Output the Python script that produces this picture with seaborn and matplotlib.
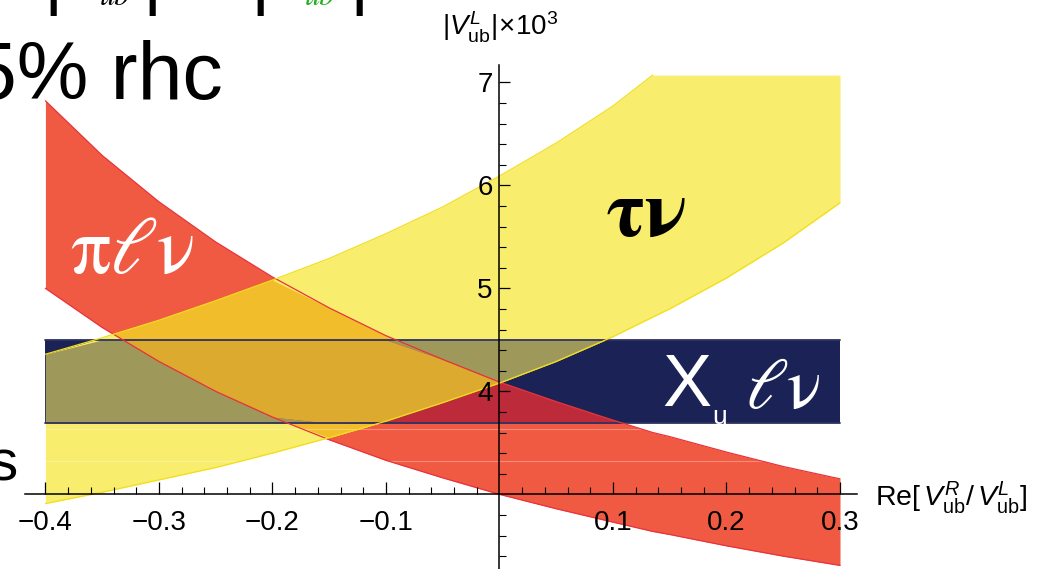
import numpy as np
import matplotlib
matplotlib.use("Agg")
import matplotlib.pyplot as plt
import seaborn as sns
from matplotlib.ticker import FixedLocator

# Re[V_ub^R / V_ub^L] sample points
ratio = [-0.40, -0.35, -0.30, -0.25, -0.20, -0.15, -0.10, -0.05, 0.00,
         0.05, 0.10, 0.135, 0.15, 0.20, 0.25, 0.30]

# |V_ub^L| x 10^3 allowed by B -> pi l nu
pilnu_upper = [6.82, 6.29, 5.84, 5.45, 5.11, 4.81, 4.54, 4.31, 4.09,
               3.90, 3.72, 3.60, 3.56, 3.41, 3.27, 3.15]
pilnu_lower = [5.00, 4.62, 4.29, 4.00, 3.75, 3.53, 3.33, 3.16, 3.00,
               2.86, 2.73, 2.64, 2.61, 2.50, 2.40, 2.31]

# |V_ub^L| x 10^3 allowed by B -> tau nu (cut at the top of the plot range)
taunu_upper = [4.36, 4.52, 4.69, 4.88, 5.08, 5.29, 5.53, 5.79, 6.09,
               6.41, 6.77, 7.07, 7.07, 7.07, 7.07, 7.07]
taunu_lower = [2.91, 3.02, 3.14, 3.26, 3.40, 3.55, 3.71, 3.89, 4.08,
               4.29, 4.53, 4.72, 4.80, 5.10, 5.44, 5.83]

# inclusive B -> X_u l nu band (independent of the ratio)
xulnu_upper = 4.50
xulnu_lower = 3.69

x_ticks = [-0.4, -0.3, -0.2, -0.1, 0.1, 0.2, 0.3]
x_tick_labels = ["\u22120.4", "\u22120.3", "\u22120.2", "\u22120.1", "0.1", "0.2", "0.3"]
y_ticks = [4, 5, 6, 7]
y_tick_labels = ["4", "5", "6", "7"]

RED = "#f15a42"
YELLOW = "#f8ed6c"
NAVY = "#1b2356"
RED_YELLOW = "#f2bd2a"
YELLOW_NAVY = "#9e995a"
RED_NAVY = "#bd2a3a"
ALL_THREE = "#dbaa2e"

sns.set_theme(style="white")
plt.rcParams["font.family"] = ["Liberation Sans", "DejaVu Sans"]
plt.rcParams["mathtext.fontset"] = "custom"
plt.rcParams["mathtext.rm"] = "Liberation Sans"
plt.rcParams["mathtext.it"] = "Liberation Sans:italic"
plt.rcParams["mathtext.bf"] = "Liberation Sans:bold"

fig = plt.figure(figsize=(10.44, 5.69), dpi=100)
ax = fig.add_axes([0, 0, 1, 1])
ax.set_xlim(-0.440, 0.4797)
ax.set_ylim(2.275, 7.799)
ax.set_facecolor("white")

x = np.array(ratio)
r_lo, r_hi = np.array(pilnu_lower), np.array(pilnu_upper)
t_lo, t_hi = np.array(taunu_lower), np.array(taunu_upper)
n_lo, n_hi = np.full_like(x, xulnu_lower), np.full_like(x, xulnu_upper)


def band(lo, hi, color, z):
    ax.fill_between(x, lo, hi, where=lo < hi, interpolate=True,
                    color=color, lw=0, zorder=z)


# single bands
band(n_lo, n_hi, NAVY, 1)
band(r_lo, r_hi, RED, 2)
band(t_lo, t_hi, YELLOW, 3)
# overlaps
band(np.maximum(t_lo, r_lo), np.minimum(t_hi, r_hi), RED_YELLOW, 4)
band(np.maximum(t_lo, n_lo), np.minimum(t_hi, n_hi), YELLOW_NAVY, 4)
band(np.maximum(r_lo, n_lo), np.minimum(r_hi, n_hi), RED_NAVY, 4)
band(np.maximum.reduce([t_lo, r_lo, n_lo]),
     np.minimum.reduce([t_hi, r_hi, n_hi]), ALL_THREE, 5)

# faint rendering seams
for yy in (3.32, 3.63):
    ax.plot([x[0], x[-1]], [yy, yy], color="white", alpha=0.3, lw=0.8, zorder=6)

# band edges
for yy in (xulnu_lower, xulnu_upper):
    sns.lineplot(x=[x[0], x[-1]], y=[yy, yy], color="#2e3260", lw=1.3,
                 ax=ax, zorder=7)
for arr in (r_lo, r_hi):
    sns.lineplot(x=x, y=arr, color="#e8323c", lw=0.9, ax=ax, zorder=8,
                 estimator=None, sort=False)
for arr in (t_lo, t_hi[:12]):
    xs = x[:len(arr)]
    sns.lineplot(x=xs, y=arr, color="#f3de1c", lw=0.9, ax=ax, zorder=9,
                 estimator=None, sort=False)

# axes crossing at (0, 3)
for side in ("top", "right"):
    ax.spines[side].set_visible(False)
ax.spines["left"].set_position(("data", 0))
ax.spines["bottom"].set_position(("data", 3))
ax.spines["left"].set_bounds(2.275, 7.165)
ax.spines["bottom"].set_bounds(-0.418, 0.315)
for side in ("left", "bottom"):
    ax.spines[side].set_color("black")
    ax.spines[side].set_linewidth(1.1)
    ax.spines[side].set_zorder(20)

ax.xaxis.set_major_locator(FixedLocator(x_ticks))
ax.set_xticklabels(x_tick_labels)
x_minor = [round(v, 2) for v in np.arange(-0.40, 0.3001, 0.02)
           if abs(round(v * 10) - v * 10) > 1e-6]
ax.xaxis.set_minor_locator(FixedLocator(x_minor))
ax.yaxis.set_major_locator(FixedLocator(y_ticks))
ax.set_yticklabels(y_tick_labels)
y_minor = [round(v, 1) for v in np.arange(2.4, 7.01, 0.2)
           if abs(round(v) - v) > 1e-6]
ax.yaxis.set_minor_locator(FixedLocator(y_minor))

ax.tick_params(axis="x", which="major", direction="in", length=9, width=0.9,
               labelsize=20, pad=11, colors="black", bottom=True)
ax.tick_params(axis="x", which="minor", direction="in", length=5, width=0.8,
               bottom=True, colors="black")
ax.tick_params(axis="y", which="major", direction="in", length=8, width=0.9,
               labelsize=20, pad=5, colors="black", left=True)
ax.tick_params(axis="y", which="minor", direction="in", length=5, width=0.8,
               left=True, colors="black")
ax.xaxis.set_zorder(25)
ax.yaxis.set_zorder(25)
ax.grid(False)

# axis labels
ax.text(0.0004, 7.53, r"$|V^{L}_{\mathrm{ub}}|\!\times\!10^{3}$", fontsize=20,
        ha="center", va="center", color="black")
ax.text(0.3308, 2.964, r"$\mathrm{Re}[\,V^{R}_{\mathrm{ub}}/\,V^{L}_{\mathrm{ub}}]$",
        fontsize=20.5, ha="left", va="center", color="black")

# band names
greek = ["STIXGeneral", "DejaVu Serif"]
ax.text(-0.3784, 5.149, "\u03c0\u2113\u03bd", family=greek, fontsize=58,
        color="white", ha="left", va="baseline", zorder=12)
ax.text(0.0938, 5.508, "\u03c4\u03bd", family=greek, fontsize=58,
        weight="bold", color="black", ha="left", va="baseline", zorder=12)
ax.text(0.1432, 3.858, "X", fontsize=53, color="white", ha="left",
        va="baseline", zorder=12)
ax.text(0.1872, 3.683, "u", fontsize=19, color="white", ha="left",
        va="baseline", zorder=12)
ax.text(0.2163, 3.838, "\u2113\u03bd", family=greek, fontsize=52,
        color="white", ha="left", va="baseline", zorder=12)

# surrounding annotation text running off the canvas
ax.text(-0.2436, 6.838, "5% rhc", fontsize=58, color="black", ha="right",
        va="baseline", zorder=12)
ax.text(-0.4242, 3.139, "s", fontsize=42, color="black", ha="right",
        va="baseline", zorder=12)
for bx in (-0.3934, -0.3062, -0.2110, -0.1238):
    ax.text(bx, 7.653, "|", family=greek, fontsize=50, weight="bold",
            color="black", ha="center", va="baseline", zorder=12)
ax.text(-0.352, 7.750, "ub", family=greek, style="italic", fontsize=22,
        color="black", ha="left", va="baseline", zorder=12)
ax.text(-0.1714, 7.750, "ub", family=greek, style="italic", fontsize=22,
        color="#1fb01f", ha="left", va="baseline", zorder=12)

fig.savefig("out.png", dpi=100)
